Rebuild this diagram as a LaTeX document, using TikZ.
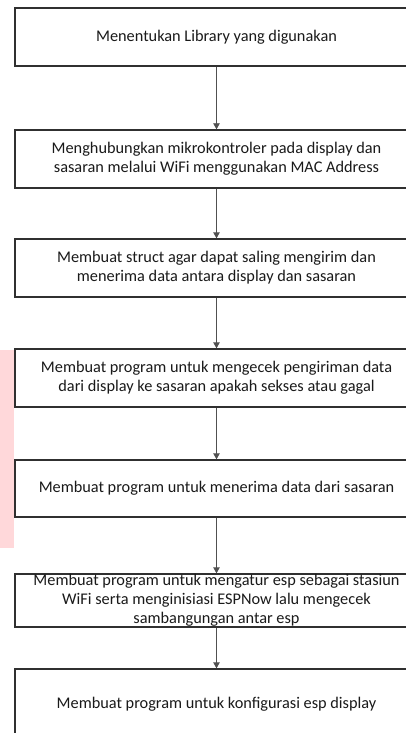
\documentclass[tikz,border=0pt]{standalone}
\usepackage{fontspec}
\setmainfont{Carlito}
\usetikzlibrary{arrows.meta}
\definecolor{boxline}{HTML}{303030}
\definecolor{arrline}{HTML}{505050}
\definecolor{txt}{HTML}{1A1A1A}
\definecolor{pinkbar}{HTML}{FFD8DA}
\tikzset{
  stepbox/.style={draw=boxline, line width=1.4pt, fill=white, minimum width=403pt,
    align=center, text=txt, inner sep=0pt, font=\fontsize{16.3}{18.8}\selectfont},
  flow/.style={draw=arrline, line width=0.9pt, -{Triangle[width=6.5pt,length=6pt]}}
}
\begin{document}
\begin{tikzpicture}[x=1pt,y=-1pt]
\useasboundingbox (0,0) rectangle (406,733);
\clip (0,0) rectangle (406,733);
\fill[white] (0,0) rectangle (406,733);
\fill[pinkbar] (0,350) rectangle (14,548);
\node[stepbox, minimum height=58pt] (b1) at (216.5,37) {Menentukan Library yang digunakan};
\node[stepbox, minimum height=58pt] (b2) at (216.5,159) {Menghubungkan mikrokontroler pada display dan\\sasaran melalui WiFi menggunakan MAC Address};
\node[stepbox, minimum height=58pt] (b3) at (216.5,268) {Membuat struct agar dapat saling mengirim dan\\menerima data antara display dan sasaran};
\node[stepbox, minimum height=58pt] (b4) at (216.5,378) {Membuat program untuk mengecek pengiriman data\\dari display ke sasaran apakah sekses atau gagal};
\node[stepbox, minimum height=57pt] (b5) at (216.5,488.5) {Membuat program untuk menerima data dari sasaran};
\node[stepbox, minimum height=53pt] (b6) at (216.5,600.5) {Membuat program untuk mengatur esp sebagai stasiun\\WiFi serta menginisiasi ESPNow lalu mengecek\\sambangungan antar esp};
\node[stepbox, minimum height=70pt] (b7) at (216.5,704) {Membuat program untuk konfigurasi esp display};
\draw[flow] (b1) -- (b2);
\draw[flow] (b2) -- (b3);
\draw[flow] (b3) -- (b4);
\draw[flow] (b4) -- (b5);
\draw[flow] (b5) -- (b6);
\draw[flow] (b6) -- (b7);
\end{tikzpicture}
\end{document}
